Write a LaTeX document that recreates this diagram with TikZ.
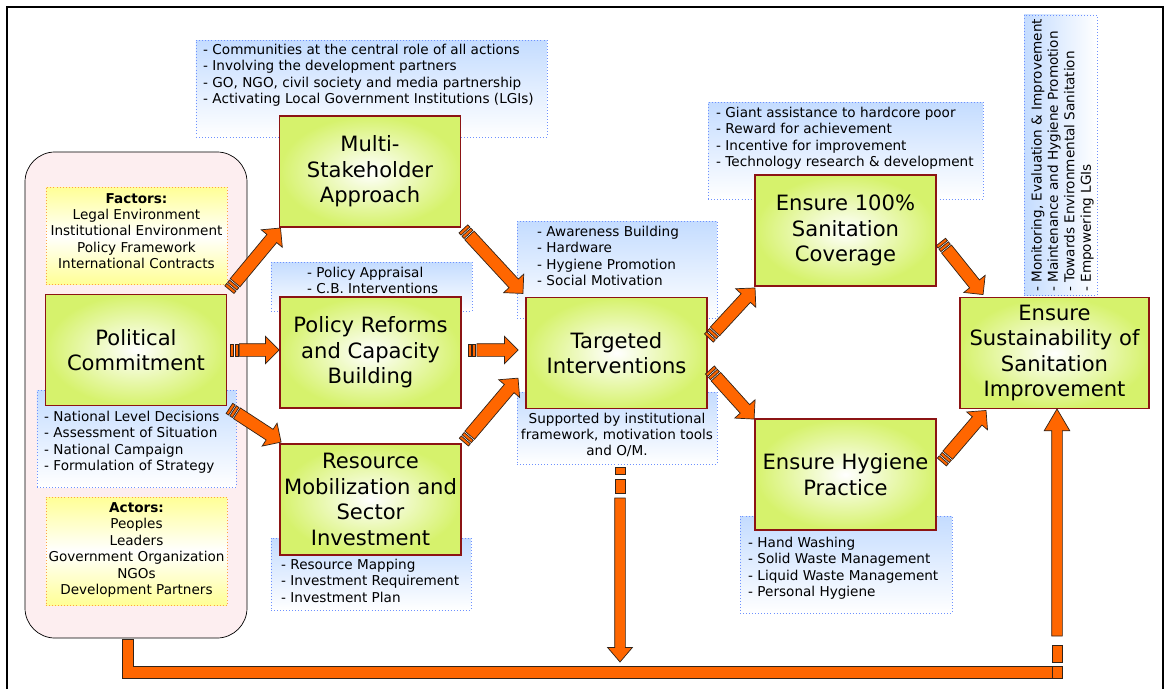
\documentclass[tikz,border=0pt]{standalone}
\usepackage{fontspec}
\setmainfont{DejaVu Sans}
\usetikzlibrary{calc,shapes.arrows}

\definecolor{arroworange}{RGB}{255,102,0}
\definecolor{arrowline}{RGB}{50,35,25}
\definecolor{boxgreen}{RGB}{214,242,108}
\definecolor{boxred}{RGB}{140,20,20}
\definecolor{noteblue}{RGB}{196,220,255}
\definecolor{notebluedot}{RGB}{110,145,255}
\definecolor{noteyellow}{RGB}{255,255,150}
\definecolor{noteyellowdot}{RGB}{255,160,70}
\definecolor{roundpink}{RGB}{253,238,240}

\newcommand{\bigtext}{\fontsize{18}{21.7}\selectfont}
\newcommand{\smalltext}{\fontsize{11.6}{14}\selectfont}

\tikzset{
	stepbox/.style={draw=boxred, line width=1.5pt, inner color=white, outer color=boxgreen,
		minimum width=5.43cm, minimum height=3.33cm, align=center, font=\bigtext, inner sep=0pt},
	notebox/.style={draw=notebluedot, dotted, line width=0.6pt, top color=noteblue, bottom color=white, inner sep=0pt},
	listbox/.style={draw=noteyellowdot, dotted, line width=0.6pt, top color=noteyellow, bottom color=noteyellow,
		middle color=white, inner sep=0pt, minimum width=5.43cm},
	notetext/.style={font=\smalltext, align=left, inner sep=0pt, anchor=north west},
	flowarrow/.style={single arrow, draw=arrowline, fill=arroworange, line width=0.6pt, inner sep=0pt,
		inner ysep=0.18cm, single arrow head extend=0.22cm, single arrow tip angle=90, anchor=tail, outer sep=0pt},
	flowstripe/.style={draw=arrowline, fill=arroworange, line width=0.6pt, inner sep=0pt,
		minimum width=0.09cm, minimum height=0.36cm, outer sep=0pt}
}

\newcommand{\flow}[3]{%
	\coordinate (#1-a) at (#2);
	\coordinate (#1-b) at (#3);
	\path let \p1=($(#1-b)-(#1-a)$), \n1={atan2(\y1,\x1)}, \n2={veclen(\x1,\y1)} in
		($(#1-a)!0.045cm!(#1-b)$) node[flowstripe, rotate=\n1] (#1-s1) {}
		($(#1-a)!0.18cm!(#1-b)$) node[flowstripe, rotate=\n1] (#1-s2) {}
		($(#1-a)!0.27cm!(#1-b)$) node[flowarrow, rotate=\n1, minimum height={\n2-7.68pt}] (#1) {};
}

\begin{document}
\begin{tikzpicture}[x=0.03cm, y=-0.03cm]
	\useasboundingbox (0,0) rectangle (1167,689);

	\draw[line width=1.2pt] (7,689) -- (7,7) -- (1163,7) -- (1163,689);

	\node[draw=black, fill=roundpink, rounded corners=0.9cm, line width=0.6pt,
		minimum width=6.66cm, minimum height=14.58cm] (pink) at (136,395) {};

	\node[listbox, minimum height=2.91cm] (factorbox) at (136.5,235.5) {};
	\node[font=\smalltext, align=center, inner sep=0pt] (factors) at (136.5,231)
		{\textbf{Factors:}\\Legal Environment\\Institutional Environment\\Policy Framework\\International Contracts};
	\node[listbox, minimum height=3.24cm] (actorbox) at (136.5,551) {};
	\node[font=\smalltext, align=center, inner sep=0pt] (actors) at (136.5,550)
		{\textbf{Actors:}\\Peoples\\Leaders\\Government Organization\\NGOs\\Development Partners};

	\node[notebox, minimum width=10.53cm, minimum height=2.91cm] (msanote) at (371.5,88.5) {};
	\node[notetext] (msalist) at (203,44) {- Communities at the central role of all actions\\- Involving the development partners\\- GO, NGO, civil society and media partnership\\- Activating Local Government Institutions (LGIs)};

	\node[notebox, minimum width=6.03cm, minimum height=1.47cm] (prcnote) at (371.5,286.5) {};
	\node[notetext] (prclist) at (307,267) {- Policy Appraisal\\- C.B. Interventions};

	\node[notebox, minimum width=5.97cm, minimum height=2.91cm] (pcnote) at (136.5,438.5) {};
	\node[notetext] (pclist) at (44,411) {- National Level Decisions\\- Assessment of Situation\\- National Campaign\\- Formulation of Strategy};

	\node[notebox, minimum width=6cm, minimum height=2.16cm] (rmsnote) at (371,574) {};
	\node[notetext] (rmslist) at (281,559) {- Resource Mapping\\- Investment Requirement\\- Investment Plan};

	\node[notebox, minimum width=6cm, minimum height=2.91cm] (titop) at (617,269.5) {};
	\node[notetext] (tilist) at (537,226) {- Awareness Building\\- Hardware\\- Hygiene Promotion\\- Social Motivation};
	\node[notebox, minimum width=6cm, minimum height=2.16cm] (tibot) at (617,428) {};
	\node[font=\smalltext, align=center, inner sep=0pt] (tisupport) at (617,435) {Supported by institutional\\framework, motivation tools\\and O/M.};

	\node[notebox, minimum width=8.25cm, minimum height=2.91cm] (e100note) at (845.5,150.5) {};
	\node[notetext] (e100list) at (716,107) {- Giant assistance to hardcore poor\\- Reward for achievement\\- Incentive for improvement\\- Technology research \& development};

	\node[notebox, minimum width=6.36cm, minimum height=2.91cm] (ehpnote) at (846,564.5) {};
	\node[notetext] (ehplist) at (748,537) {- Hand Washing\\- Solid Waste Management\\- Liquid Waste Management\\- Personal Hygiene};

	\node[notebox, left color=noteblue, right color=white, minimum width=2.19cm, minimum height=8.4cm] (essnote) at (1060.5,155) {};
	\node[notetext, rotate=90] (esslist) at (1031,292) {- Monitoring, Evaluation \& Improvement\\- Maintenance and Hygiene Promotion\\- Towards Environmental Sanitation\\- Empowering LGIs};

	\node[stepbox] (pc) at (136,350) {Political\\Commitment};
	\node[stepbox] (msa) at (370,171.5) {Multi-\\Stakeholder\\Approach};
	\node[stepbox] (prc) at (370.5,352.5) {Policy Reforms\\and Capacity\\Building};
	\node[stepbox] (rms) at (370.5,499.5) {Resource\\Mobilization and\\Sector\\Investment};
	\node[stepbox] (ti) at (616.5,353) {Targeted\\Interventions};
	\node[stepbox] (e100) at (845.5,230.5) {Ensure 100\%\\Sanitation\\Coverage};
	\node[stepbox] (ehp) at (845.5,474.5) {Ensure Hygiene\\Practice};
	\node[stepbox, minimum width=5.67cm] (ess) at (1054.5,353) {Ensure\\Sustainability of\\Sanitation\\Improvement};

	\flow{pcmsa}{$(pc.north east)+(2,-4)$}{$(msa.south west)+(2,0)$}
	\flow{pcprc}{$(pc.east)+(3,0)$}{prc.west |- pcprc-a}
	\flow{pcrms}{$(pc.south east)+(2,2)$}{$(rms.north west)+(2,-1)$}
	\flow{msati}{$(msa.south east)+(2,1)$}{$(ti.north west)+(-2,-3)$}
	\flow{prcti}{$(prc.east)+(6,-2.5)$}{$(ti.west)+(-7,-3)$}
	\flow{rmsti}{$(rms.north east)+(2,-1)$}{$(ti.west)+(-7,25)$}
	\flow{tie100}{$(ti.east)+(1,-15)$}{$(e100.south west)+(1,1)$}
	\flow{tiehp}{$(ti.east)+(2,17)$}{$(ehp.north west)+(0,1)$}
	\flow{e100ess}{$(e100.east)+(4,11.5)$}{$(ess.north west)+(24,-2)$}
	\flow{ehpess}{$(ehp.east)+(5,-12.5)$}{$(ess.south west)+(27,1)$}

	\node[flowstripe, minimum width=0.3cm, minimum height=0.21cm] (drop-s1) at (620,470.5) {};
	\node[flowstripe, minimum width=0.3cm, minimum height=0.42cm] (drop-s2) at (620,486) {};
	\node[flowarrow, rotate=-90, inner ysep=0.15cm, single arrow head extend=0.21cm, single arrow tip angle=81,
		minimum height=4.92cm] (drop) at (620,498) {};

	\coordinate (backstart) at ($(pink.south)+(-14,1)$);
	\draw[draw=arrowline, fill=arroworange, line width=0.6pt] (backstart) -- ++(11,0) -- (133,666)
		-- (1052,666) -- (1052,678) -- (122,678) -- cycle;
	\node[flowstripe, minimum width=0.3cm, minimum height=0.36cm] (backcorner) at (1057,672) {};
	\node[flowstripe, minimum width=0.3cm, minimum height=0.51cm] (rise-s1) at (1057,653.5) {};
	\node[flowarrow, rotate=90, inner ysep=0.15cm, single arrow head extend=0.225cm, single arrow tip angle=61,
		minimum height=6.81cm] (rise) at (1057,636) {};
\end{tikzpicture}
\end{document}
